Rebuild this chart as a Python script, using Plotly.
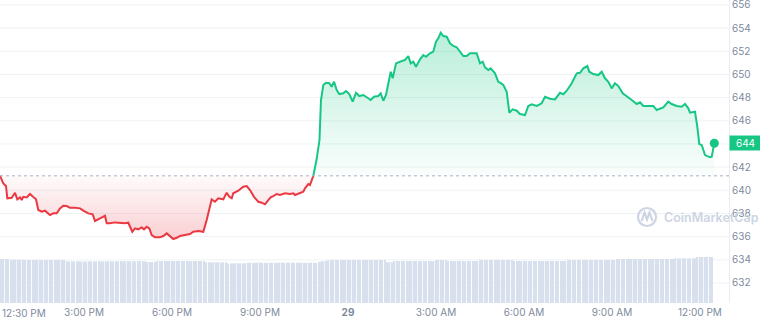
import numpy as np
import plotly.graph_objects as go

# ---------------- data (hours relative to midnight of the 29th) ----------------
open_price = 641.25

red_hours = [-11.865, -11.752, -11.660, -11.616, -11.466, -11.353, -11.275, -11.183, -11.125, -11.071,
             -10.955, -10.842, -10.740, -10.638, -10.559, -10.443, -10.331, -10.160, -10.048, -9.932,
             -9.819, -9.707, -9.591, -9.478, -9.308, -9.137, -9.025, -8.854, -8.704, -8.626,
             -8.455, -8.285, -8.227, -8.115, -7.944, -7.774, -7.603, -7.491, -7.433, -7.354,
             -7.262, -7.150, -7.034, -6.955, -6.863, -6.774, -6.693, -6.580, -6.410, -6.297,
             -6.181, -6.069, -5.956, -5.840, -5.728, -5.558, -5.387, -5.274, -5.104, -4.934,
             -4.818, -4.647, -4.535, -4.422, -4.306, -4.252, -4.136, -4.047, -3.965, -3.911,
             -3.740, -3.570, -3.454, -3.341, -3.205, -3.058, -2.942, -2.830, -2.717, -2.636,
             -2.547, -2.431, -2.319, -2.148, -1.978, -1.865, -1.807, -1.637, -1.524, -1.466,
             -1.354, -1.296, -1.238, -1.183]
red_price = [641.25, 640.60, 640.37, 639.31, 639.36, 639.79, 639.22, 639.39, 639.16, 639.44,
             639.39, 639.68, 639.44, 639.22, 638.30, 638.15, 638.24, 637.86, 638.01, 638.01,
             638.44, 638.67, 638.64, 638.49, 638.49, 638.44, 638.24, 638.01, 637.92, 637.35,
             637.58, 637.80, 637.15, 637.15, 637.23, 637.20, 637.15, 637.20, 636.85, 636.42,
             636.71, 636.63, 636.80, 636.63, 636.85, 636.71, 636.14, 635.94, 635.94, 636.05,
             636.28, 636.05, 635.79, 635.90, 636.05, 636.14, 636.22, 636.42, 636.48, 636.42,
             637.43, 639.22, 639.01, 639.31, 639.22, 639.22, 639.79, 639.44, 639.31, 639.74,
             639.96, 640.31, 640.37, 640.02, 639.44, 639.01, 638.93, 638.79, 639.16, 639.39,
             639.50, 639.68, 639.59, 639.74, 639.68, 639.74, 639.59, 639.74, 639.88, 640.17,
             640.54, 640.45, 640.89, 641.25]

green_hours = [-1.183, -1.074, -0.972, -0.921, -0.842, -0.750, -0.638, -0.556, -0.477, -0.385,
               -0.297, -0.160, -0.068, 0.044, 0.160, 0.273, 0.385, 0.522, 0.638, 0.774,
               0.886, 1.033, 1.115, 1.204, 1.296, 1.374, 1.456, 1.524, 1.637, 1.773,
               1.943, 2.056, 2.138, 2.226, 2.318, 2.455, 2.567, 2.659, 2.796, 2.908,
               3.000, 3.079, 3.161, 3.249, 3.365, 3.478, 3.590, 3.706, 3.819, 3.931,
               4.047, 4.160, 4.388, 4.500, 4.593, 4.671, 4.783, 4.865, 5.012, 5.124,
               5.182, 5.295, 5.411, 5.455, 5.499, 5.615, 5.752, 5.864, 5.977, 6.035,
               6.147, 6.263, 6.434, 6.604, 6.717, 6.887, 7.058, 7.228, 7.341, 7.457,
               7.627, 7.798, 7.910, 8.023, 8.159, 8.227, 8.364, 8.534, 8.650, 8.762,
               8.875, 8.991, 9.103, 9.216, 9.366, 9.502, 9.673, 9.843, 9.956, 10.068,
               10.239, 10.409, 10.525, 10.638, 10.750, 10.920, 11.036, 11.207, 11.377, 11.490,
               11.602, 11.660, 11.831, 11.909, 11.977, 12.059, 12.172, 12.342, 12.400, 12.489]
green_price = [641.25, 642.61, 644.34, 647.79, 649.09, 649.29, 649.24, 648.94, 649.37, 648.66,
               648.31, 648.37, 648.57, 648.31, 647.65, 648.42, 648.14, 648.23, 648.03, 647.79,
               648.08, 648.14, 648.37, 647.73, 648.23, 649.09, 650.24, 649.67, 650.96, 651.10,
               651.25, 651.59, 650.96, 651.10, 650.67, 651.31, 651.68, 651.53, 651.83, 651.97,
               652.83, 653.12, 653.61, 653.32, 653.26, 652.69, 652.46, 652.35, 651.97, 651.59,
               651.59, 651.83, 651.83, 650.96, 651.10, 650.62, 650.39, 650.53, 650.10, 649.37,
               649.29, 649.09, 648.51, 647.79, 646.70, 646.99, 646.87, 646.59, 646.50, 646.50,
               647.28, 647.42, 647.28, 647.51, 648.08, 647.91, 647.85, 648.42, 648.29, 648.60,
               649.24, 650.10, 650.15, 650.53, 650.73, 650.24, 650.04, 649.95, 650.24, 649.67,
               649.37, 648.80, 649.24, 649.00, 648.37, 648.14, 647.79, 647.45, 647.60, 647.28,
               647.28, 647.28, 646.93, 647.08, 647.16, 647.65, 647.45, 647.28, 647.22, 647.45,
               647.08, 646.70, 646.78, 645.49, 643.99, 643.91, 643.04, 642.85, 642.90, 644.06]

vol_start_hour = -11.83
vol_step_minutes = 5
volume = [4.40, 4.41, 4.39, 4.40, 4.33, 4.32, 4.34, 4.33, 4.31, 4.33, 4.32, 4.30,
          4.30, 4.31, 4.29, 4.30, 4.28, 4.30, 4.31, 4.29, 4.30, 4.28, 4.30, 4.29,
          4.30, 4.29, 4.30, 4.18, 4.17, 4.18, 4.16, 4.17, 4.18, 4.17, 4.16, 4.17,
          4.17, 4.18, 4.16, 4.17, 4.18, 4.17, 4.16, 4.17, 4.18, 4.17, 4.16, 4.18,
          4.18, 4.19, 4.17, 4.18, 4.19, 4.18, 4.17, 4.18, 4.19, 4.20, 4.18, 4.17,
          4.10, 4.09, 4.10, 4.11, 4.20, 4.21, 4.20, 4.19, 4.21, 4.20, 4.21, 4.20,
          4.20, 4.21, 4.19, 4.20, 4.21, 4.20, 4.19, 4.21, 4.20, 4.19, 4.20, 4.21,
          4.07, 4.08, 4.06, 4.07, 4.08, 4.07, 4.06, 4.07, 4.08, 3.97, 3.96, 3.97,
          3.97, 3.98, 3.96, 3.97, 3.98, 4.03, 4.04, 4.03, 4.02, 4.03, 4.04, 4.03,
          4.03, 4.02, 4.03, 4.04, 4.03, 4.02, 4.03, 4.04, 4.03, 4.02, 4.03, 4.04,
          4.03, 4.02, 4.03, 4.04, 4.03, 4.02, 4.03, 4.04, 4.03, 4.02, 4.12, 4.15,
          4.18, 4.22, 4.26, 4.30, 4.31, 4.30, 4.29, 4.30, 4.31, 4.30, 4.29, 4.30,
          4.30, 4.31, 4.30, 4.29, 4.30, 4.31, 4.30, 4.29, 4.30, 4.31, 4.30, 4.30,
          4.30, 4.29, 4.07, 4.08, 4.07, 4.20, 4.21, 4.20, 4.19, 4.20, 4.21, 4.20,
          4.20, 4.19, 4.20, 4.21, 4.20, 4.19, 4.20, 4.21, 4.20, 4.19, 4.30, 4.31,
          4.30, 4.29, 4.30, 4.20, 4.21, 4.20, 4.19, 4.20, 4.21, 4.20, 4.19, 4.20,
          4.20, 4.21, 4.19, 4.20, 4.30, 4.31, 4.30, 4.29, 4.30, 4.31, 4.30, 4.29,
          4.30, 4.31, 4.30, 4.29, 4.30, 4.31, 4.20, 4.21, 4.20, 4.19, 4.20, 4.21,
          4.20, 4.19, 4.20, 4.21, 4.20, 4.19, 4.20, 4.21, 4.20, 4.19, 4.20, 4.21,
          4.20, 4.21, 4.19, 4.20, 4.30, 4.31, 4.30, 4.29, 4.30, 4.31, 4.30, 4.29,
          4.30, 4.31, 4.30, 4.29, 4.30, 4.31, 4.30, 4.29, 4.30, 4.31, 4.30, 4.30,
          4.40, 4.39, 4.40, 4.41, 4.40, 4.39, 4.40, 4.41, 4.40, 4.39, 4.40, 4.41,
          4.40, 4.41, 4.39, 4.40, 4.41, 4.40, 4.39, 4.40, 4.41, 4.40, 4.39, 4.40,
          4.47, 4.46, 4.47, 4.48, 4.47, 4.46, 4.47, 4.48, 4.47, 4.60, 4.61, 4.60,
          4.60, 4.61, 4.60, 4.59]

first_time_label = "12:30 PM"   # left-edge label, kept inside the chart
x_tickvals = [-9, -6, -3, 0, 3, 6, 9, 12]
x_ticktext = ["3:00 PM", "6:00 PM", "9:00 PM", "<b>29</b>",
              "3:00 AM", "6:00 AM", "9:00 AM", "12:00 PM"]
# 644 is shown by the current-price tag instead of a plain tick label
y_tickvals = [632, 634, 636, 638, 640, 642, 646, 648, 650, 652, 654, 656]
y_gridvals = [632, 634, 636, 638, 640, 642, 644, 646, 648, 650, 652, 654, 656]

# ---------------- styling ----------------
GREEN = "#16c784"
RED = "#ea3943"
TICK = "#808a9d"
GRID = "#eff2f5"
FONT = "Inter"
W, H = 760, 324
PL, PR, PT, PB = 0, 31, 0, 21
PW, PH = W - PL - PR, H - PT - PB

vol_hours = vol_start_hour + np.arange(len(volume)) * vol_step_minutes / 60.0

fig = go.Figure()

# red segment (below open)
fig.add_trace(go.Scatter(x=red_hours, y=[open_price] * len(red_hours), mode="lines",
                         line=dict(width=0), hoverinfo="skip", showlegend=False))
fig.add_trace(go.Scatter(x=red_hours, y=red_price, mode="lines",
                         line=dict(color=RED, width=2), fill="tonexty",
                         fillgradient=dict(type="vertical",
                                           colorscale=[[0, "rgba(234,57,67,0.24)"],
                                                       [1, "rgba(234,57,67,0.02)"]],
                                           start=min(red_price), stop=open_price),
                         hoverinfo="skip", showlegend=False))
# green segment (above open)
fig.add_trace(go.Scatter(x=green_hours, y=[open_price] * len(green_hours), mode="lines",
                         line=dict(width=0), hoverinfo="skip", showlegend=False))
fig.add_trace(go.Scatter(x=green_hours, y=green_price, mode="lines",
                         line=dict(color=GREEN, width=2), fill="tonexty",
                         fillgradient=dict(type="vertical",
                                           colorscale=[[0, "rgba(22,199,132,0.02)"],
                                                       [1, "rgba(22,199,132,0.30)"]],
                                           start=open_price, stop=max(green_price)),
                         hoverinfo="skip", showlegend=False))
# last point dot
fig.add_trace(go.Scatter(x=[green_hours[-1]], y=[green_price[-1]], mode="markers",
                         marker=dict(color=GREEN, size=9), hoverinfo="skip", showlegend=False))

# volume bars
fig.add_trace(go.Bar(x=vol_hours, y=volume, yaxis="y2", marker=dict(color="#d9e0ed", line=dict(width=0)),
                     hoverinfo="skip", showlegend=False))

def px_x(px):
    return (px - PL) / PW

def px_y(py):
    return (PH + PT - py) / PH

shapes = []
# horizontal grid lines (including the 644 level hidden behind the tag)
for g in y_gridvals:
    shapes.append(dict(type="line", xref="paper", yref="y", x0=0, x1=1, y0=g, y1=g,
                       line=dict(color=GRID, width=1), layer="below"))
shapes.append(dict(type="line", xref="paper", yref="y", x0=0, x1=1, y0=open_price, y1=open_price,
                   line=dict(color="#a6b0c3", width=1, dash="dot"), layer="above"))
# watermark logo
cx, cy, r = 647, 217, 9
shapes.append(dict(type="circle", xref="paper", yref="paper",
                   x0=px_x(cx - r), x1=px_x(cx + r), y0=px_y(cy + r), y1=px_y(cy - r),
                   line=dict(color="#cdd4e4", width=2.2), layer="above"))
pts = [(641.5, 221), (644.5, 212.5), (647, 219.5), (649.5, 212.5), (652.5, 221)]
path = "M " + " L ".join(f"{px_x(a):.5f},{px_y(b):.5f}" for a, b in pts)
shapes.append(dict(type="path", xref="paper", yref="paper", path=path,
                   line=dict(color="#cdd4e4", width=2.2), layer="above"))

annotations = [
    dict(xref="paper", yref="paper", x=px_x(662), y=px_y(217), xanchor="left", yanchor="middle",
         text="CoinMarketCap", showarrow=False,
         font=dict(family=FONT, size=12.5, color="#cdd4e4", weight=600)),
    dict(xref="paper", yref="y", x=1, y=green_price[-1], xanchor="left", yanchor="middle",
         text=f"{round(green_price[-1])}", showarrow=False, bgcolor=GREEN,
         width=29, height=12, borderpad=1, align="center",
         font=dict(family=FONT, size=10, color="white")),
    dict(xref="paper", yref="paper", x=0, y=0, xanchor="left", yanchor="top", yshift=-2,
         text=first_time_label, showarrow=False,
         font=dict(family=FONT, size=10, color=TICK)),
]

fig.update_layout(
    width=W, height=H,
    margin=dict(l=PL, r=PR, t=PT, b=PB, autoexpand=False),
    paper_bgcolor="white", plot_bgcolor="white",
    hovermode=False, bargap=0.4,
    font=dict(family=FONT, size=10, color=TICK),
    xaxis=dict(range=[-11.865, 12.99], tickmode="array", tickvals=x_tickvals, ticktext=x_ticktext,
               showgrid=False, zeroline=False, ticks="", showline=False, automargin=False,
               ticklabeloverflow="allow", ticklabelstandoff=2,
               tickfont=dict(family=FONT, size=10, color=TICK)),
    yaxis=dict(range=[630.27, 656.43], side="right", tickmode="array", tickvals=y_tickvals,
               showgrid=False, zeroline=False, ticks="", automargin=False,
               showline=True, linecolor="#e8ebf0", linewidth=1,
               ticklabeloverflow="allow",
               tickfont=dict(family=FONT, size=10, color=TICK)),
    yaxis2=dict(range=[0, 30.3], overlaying="y", visible=False),
    shapes=shapes,
    annotations=annotations,
)

fig.write_html("out.html")
